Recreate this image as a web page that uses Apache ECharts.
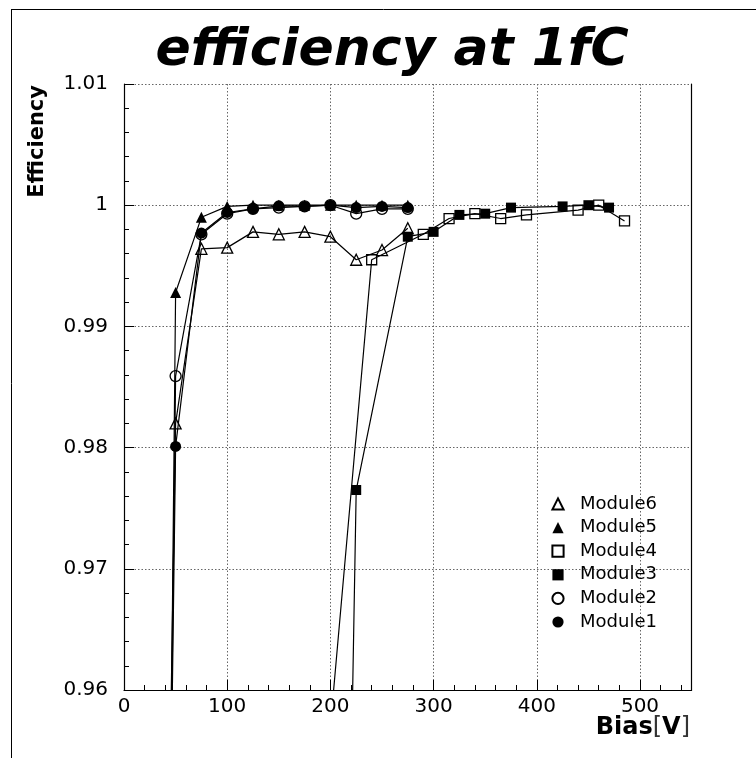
<!DOCTYPE html>
<html><head><meta charset="utf-8">
<script src="https://cdn.jsdelivr.net/npm/echarts@6/dist/echarts.min.js"></script>
<style>html,body{margin:0;padding:0;background:#fff}#c{width:756px;height:758px}</style>
</head><body><div id="c"></div>
<script>
// ---- data ----
const titleText = 'efficiency at 1fC';
const yTitle = 'Efficiency';
const legendOrder = ['Module6','Module5','Module4','Module3','Module2','Module1'];

const biasLow = [25, 50, 75, 100, 125, 150, 175, 200, 225, 250, 275];
const module1 = [0.820, 0.9801, 0.9977, 0.9994, 0.9997, 0.99995, 0.9999, 1.0000, 0.9998, 0.9999, 0.9998];
const module2 = [0.800, 0.9859, 0.9976, 0.9993, 0.9997, 0.9998, 0.9999, 1.0000, 0.9993, 0.9997, 0.9997];
const module5 = [0.780, 0.9928, 0.9990, 0.9999, 1.0000, 1.0000, 1.0000, 1.0000, 1.0000, 1.0000, 1.0000];
const module6 = [0.850, 0.9820, 0.9964, 0.9965, 0.9978, 0.9976, 0.9978, 0.9974, 0.9955, 0.9963, 0.9981];

const bias3   = [200, 225, 275, 300, 325, 350, 375, 425, 450, 470];
const module3 = [0.856, 0.9765, 0.9974, 0.9978, 0.9992, 0.9993, 0.9998, 0.9999, 1.0000, 0.9998];

const bias4   = [200, 240, 290, 315, 340, 365, 390, 440, 460, 485];
const module4 = [0.957, 0.9955, 0.9976, 0.9989, 0.9993, 0.9989, 0.9992, 0.9996, 1.0000, 0.9987];

const xTicks = {min: 0, max: 550, interval: 100};
const yTicks = {min: 0.96, max: 1.01, interval: 0.01};

// ---- chart ----
const FONT = 'DejaVu Sans';
function pairs(xs, ys){ return xs.map((x,i)=>[x, ys[i]]); }
function mk(name, xs, ys, symbol, filled, size){
  return {
    name, type:'line', data: pairs(xs, ys), symbol, symbolSize: size,
    showAllSymbol: true, clip: true, animation:false, silent:true,
    lineStyle:{color:'#000', width:1.2},
    itemStyle:{color: filled ? '#000' : 'rgba(0,0,0,0)', borderColor:'#000', borderWidth: filled?0:1.3},
    emphasis:{disabled:true}
  };
}
const chart = echarts.init(document.getElementById('c'), null, {renderer:'canvas'});
chart.setOption({
  backgroundColor:'#fff',
  animation:false,
  grid:{left:124, top:84, right:64.4, bottom:68, containLabel:false},
  xAxis:{
    type:'value', min:xTicks.min, max:xTicks.max, interval:xTicks.interval,
    axisLine:{show:true, onZero:false, lineStyle:{color:'#000', width:1.2}},
    axisTick:{show:true, inside:true, length:10, lineStyle:{color:'#000'}},
    minorTick:{show:true, splitNumber:5, length:5, lineStyle:{color:'#000'}},
    splitLine:{show:true, lineStyle:{color:'#666', type:[1.5,2], width:1}},
    axisLabel:{showMaxLabel:false, margin:7, fontFamily:FONT, fontSize:20, color:'#000'}
  },
  yAxis:[{
    type:'value', min:yTicks.min, max:yTicks.max, interval:yTicks.interval,
    axisLine:{show:true, lineStyle:{color:'#000', width:1.2}},
    axisTick:{show:true, inside:true, length:10, lineStyle:{color:'#000'}},
    minorTick:{show:true, splitNumber:5, length:5, lineStyle:{color:'#000'}},
    splitLine:{show:true, lineStyle:{color:'#666', type:[1.5,2], width:1}},
    axisLabel:{margin:16, fontFamily:FONT, fontSize:20, color:'#000',
      formatter: v => String(+v.toFixed(2))}
  },{
    type:'value', position:'right', min:yTicks.min, max:yTicks.max,
    axisLine:{show:true, lineStyle:{color:'#000', width:1.2}},
    axisTick:{show:false}, axisLabel:{show:false}, splitLine:{show:false}
  }],
  legend:{
    data: legendOrder, orient:'vertical', left:535, top:490,
    itemWidth:34, itemHeight:14, itemGap:5.6, selectedMode:false,
    lineStyle:{opacity:0},
    textStyle:{fontFamily:FONT, fontSize:18, color:'#000', lineHeight:14}
  },
  series:[
    mk('Module6', biasLow, module6, 'triangle', false, 11),
    mk('Module4', bias4, module4, 'rect', false, 10),
    mk('Module2', biasLow, module2, 'circle', false, 11),
    mk('Module3', bias3, module3, 'rect', true, 10),
    mk('Module5', biasLow, module5, 'triangle', true, 11),
    mk('Module1', biasLow, module1, 'circle', true, 11)
  ],
  graphic:[
    {type:'line', shape:{x1:11, y1:9.5, x2:756, y2:9.5}, style:{stroke:'#000', lineWidth:1}, silent:true},
    {type:'line', shape:{x1:11.5, y1:9, x2:11.5, y2:758}, style:{stroke:'#000', lineWidth:1}, silent:true},
    {type:'text', x:392, y:51, silent:true,
      style:{text:titleText, font:'italic bold 52px "DejaVu Sans"', fill:'#000', textAlign:'center', textVerticalAlign:'middle'}},
    {type:'text', x:38, y:85, rotation:Math.PI/2, silent:true,
      style:{text:yTitle, font:'bold 21px "DejaVu Sans"', fill:'#000', textAlign:'right', textVerticalAlign:'middle'}},
    {type:'text', x:690, y:728, silent:true,
      style:{text:'{b|Bias}{n|[}{b|V}{n|]}', textAlign:'right', textVerticalAlign:'middle',
        rich:{b:{fontFamily:FONT, fontWeight:'bold', fontSize:24, fill:'#000', color:'#000'},
              n:{fontFamily:FONT, fontWeight:'normal', fontSize:24, fill:'#333', color:'#333'}}}}
  ]
});
</script></body></html>
